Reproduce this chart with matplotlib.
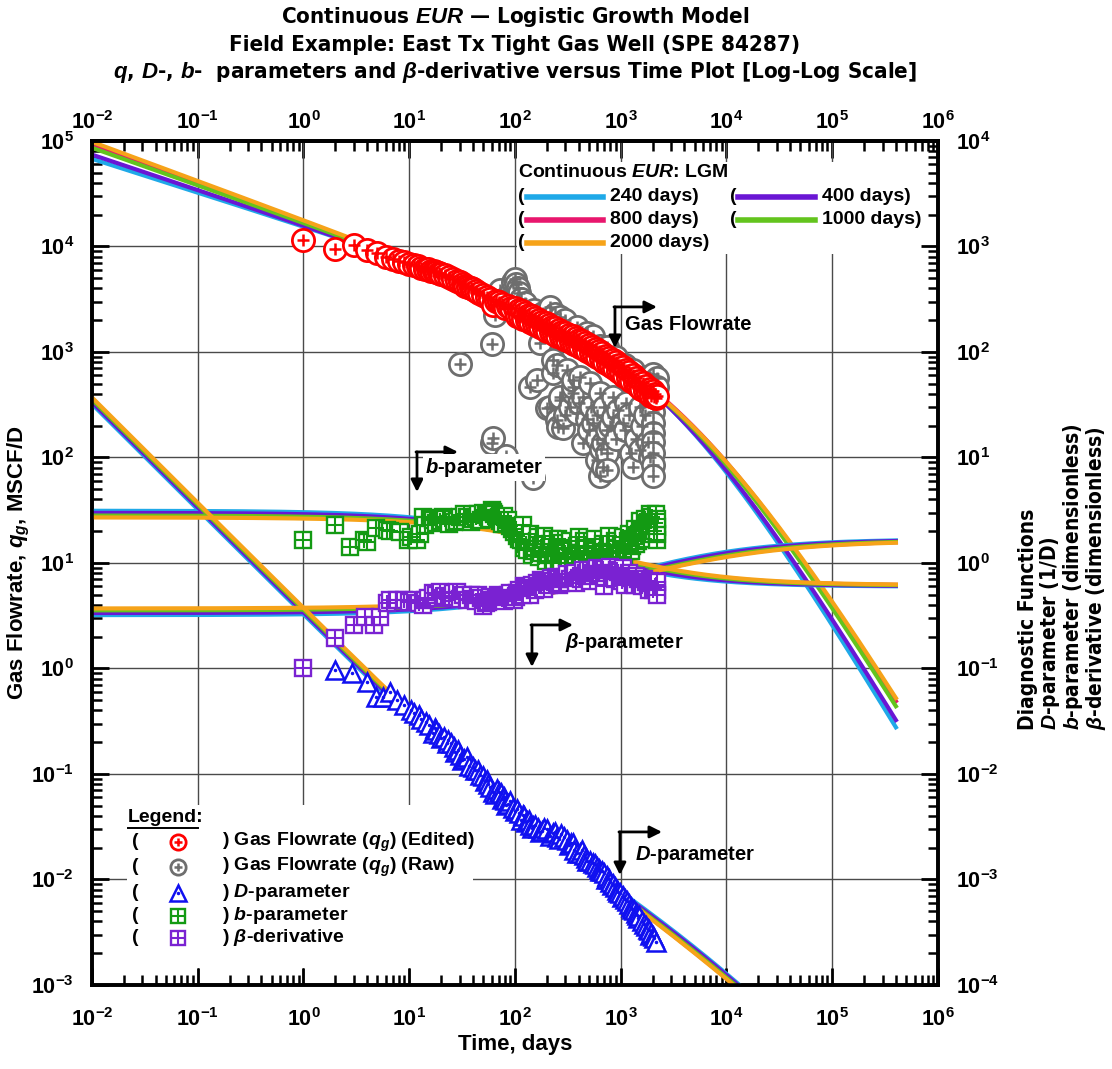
import numpy as np
import matplotlib
matplotlib.use("Agg")
import matplotlib.pyplot as plt
from matplotlib.ticker import LogLocator, FixedLocator, FuncFormatter, NullFormatter
from matplotlib.patches import Rectangle

plt.rcParams['font.family'] = ['Liberation Sans', 'DejaVu Sans']
plt.rcParams['font.weight'] = 'bold'
plt.rcParams['mathtext.fontset'] = 'custom'
plt.rcParams['mathtext.rm'] = 'Liberation Sans:bold'
plt.rcParams['mathtext.bf'] = 'Liberation Sans:bold'
plt.rcParams['mathtext.it'] = 'Liberation Sans:bold:italic'
COND = dict(family='DejaVu Sans', stretch='condensed', weight='bold')

# ---- production data (edited rate, MSCF/D) ----
q_edit_t = [1, 2, 3, 4, 5, 6, 7, 8, 9, 10, 11, 12, 13, 14, 15, 16, 17, 18, 19, 20,
            22, 24, 26, 28, 30, 32, 34, 36, 38, 40, 43, 46, 50, 54, 58, 62, 66, 70, 75, 80,
            86, 92, 100, 104, 108, 112, 116, 120, 125, 130, 135, 140, 145, 150, 155, 162,
            168, 174, 180, 188, 195, 203, 210, 218, 225, 233, 240, 250, 260, 270, 280, 290,
            300, 312, 325, 337, 350, 362, 375, 388, 400, 415, 430, 445, 460, 480, 500, 520,
            540, 560, 580, 600, 620, 645, 670, 695, 720, 750, 780, 810, 840, 870, 900, 935,
            970, 1005, 1040, 1080, 1120, 1160, 1200, 1250, 1300, 1350, 1400, 1450, 1500,
            1560, 1620, 1690, 1750, 1810, 1880, 1940, 2000, 2050, 2100, 2150, 2190]
q_edit = [11500, 9460, 10300, 9270, 8600, 8000, 7650, 7300, 7050, 6800, 6600, 6450, 6300,
          6150, 6050, 5900, 5800, 5700, 5600, 5500, 5300, 5100, 4900, 4750, 4550, 4400,
          4250, 4150, 4050, 3950, 3800, 3650, 3500, 3350, 3200, 2790, 3050, 2950, 2850,
          2610, 2700, 2600, 2600, 2200, 2500, 2150, 2420, 2060, 2340, 1990, 2250, 1920,
          2170, 1850, 2100, 1790, 2010, 1710, 1930, 1650, 1860, 1590, 1790, 1530, 1730,
          1480, 1670, 1430, 1610, 1380, 1560, 1330, 1510, 1290, 1460, 1250, 1410, 1200,
          1360, 1160, 1310, 1110, 1260, 1070, 1210, 1020, 1160, 980, 1110, 930, 1060, 890,
          1010, 850, 970, 810, 920, 770, 880, 735, 835, 700, 795, 665, 755, 630, 715, 595,
          675, 565, 640, 530, 600, 505, 565, 475, 535, 450, 505, 425, 475, 405, 450, 385,
          425, 370, 400, 365, 385]

# raw rate points that were removed during editing
q_raw_t = [30, 60, 65, 60, 62, 72, 83, 85, 95, 100, 103, 106, 108, 115, 125, 138, 149, 150,
           160, 172, 184, 200, 214, 214, 229, 229, 240, 248, 248, 258, 266, 266, 266, 286,
           300, 300, 310, 330, 355, 356, 356, 384, 384, 400, 410, 443, 443, 480, 480, 500,
           512, 520, 550, 550, 593, 600, 600, 634, 634, 634, 650, 685, 685, 700, 734, 734,
           734, 734, 800, 850, 850, 900, 900, 950, 1060, 1100, 1100, 1130, 1200, 1250, 1300,
           1320, 1400, 1520, 1520, 1600, 1700, 1760, 1800, 1880, 1900, 2030, 2030, 2030,
           2030, 2030, 2030, 2030, 2030, 2030, 2030, 2030, 2190, 2190]
q_raw = [770, 1180, 2240, 136, 153, 3890, 103, 3400, 4600, 4900, 4400, 4000, 3600, 3200,
         2900, 470, 64, 2500, 543, 1210, 2340, 295, 2690, 302, 630, 840, 2300, 227, 753,
         195, 2140, 351, 376, 189, 2000, 250, 680, 300, 408, 470, 540, 1740, 263, 330, 580,
         376, 136, 1500, 230, 180, 510, 300, 211, 1400, 95, 250, 150, 410, 1150, 66, 120,
         136, 82, 300, 1120, 110, 182, 76, 200, 244, 376, 900, 150, 280, 211, 750, 180, 325,
         250, 110, 680, 81, 150, 300, 118, 200, 250, 583, 140, 583, 100, 620, 520, 420, 340,
         270, 210, 170, 140, 110, 85, 66, 560, 470]

# ---- diagnostic functions computed from the data ----
d_t = [2, 2.9, 3.96, 4.9, 5.7, 6.6, 7.7, 9.0, 10.5, 11, 12.3, 13, 14.3, 15.5, 16.9, 17.5,
       18, 19, 20, 21.3, 22.6, 23.5, 24.9, 26.5, 27, 28.7, 30, 31.5, 33, 35, 37, 39.8, 42,
       45, 47, 50, 52, 54, 56, 58, 62, 65, 68, 70, 73, 75, 78, 80, 83, 86, 90, 95, 100, 105,
       108, 114, 118, 122, 126, 130, 135, 140, 145, 149, 155, 165, 172, 180, 190, 200, 215,
       230, 240, 250, 260, 270, 290, 310, 325, 340, 350, 360, 385, 410, 430, 450, 465, 480,
       515, 550, 575, 600, 620, 640, 670, 700, 720, 734, 770, 800, 825, 850, 880, 920, 950,
       985, 1020, 1050, 1100, 1150, 1200, 1250, 1290, 1330, 1380, 1420, 1460, 1500, 1580,
       1660, 1730, 1800, 1850, 1900, 1950, 2000, 2080, 2150]
d_param = [0.097, 0.09, 0.075, 0.054, 0.054, 0.06, 0.05, 0.045, 0.04, 0.038, 0.036, 0.033,
           0.031, 0.029, 0.0243, 0.027, 0.026, 0.024, 0.022, 0.0226, 0.0195, 0.021, 0.0195,
           0.018, 0.016, 0.0169, 0.015, 0.0136, 0.014, 0.0145, 0.012, 0.0117, 0.0108, 0.011,
           0.0098, 0.0095, 0.0085, 0.0088, 0.008, 0.0075, 0.0068, 0.0064, 0.0072, 0.0068,
           0.0066, 0.0058, 0.006, 0.0057, 0.0051, 0.0052, 0.0055, 0.0048, 0.0045, 0.0047,
           0.0043, 0.0037, 0.0041, 0.004, 0.0035, 0.0036, 0.0037, 0.0033, 0.0031, 0.0032,
           0.0033, 0.0031, 0.0028, 0.0029, 0.0031, 0.003, 0.0026, 0.00275, 0.0028, 0.0025,
           0.0024, 0.0027, 0.0025, 0.00237, 0.0021, 0.0022, 0.0022, 0.0019, 0.0018, 0.00177,
           0.0019, 0.0017, 0.0016, 0.0015, 0.0015, 0.00142, 0.0014, 0.0013, 0.00125, 0.0012,
           0.0012, 0.00115, 0.001, 0.00107, 0.001, 0.00095, 0.00088, 0.0009, 0.00085, 0.0008,
           0.00076, 0.00074, 0.00068, 0.0007, 0.00066, 0.00062, 0.00058, 0.00055, 0.00052,
           0.00051, 0.00048, 0.00046, 0.00043, 0.00045, 0.0004, 0.00038, 0.00036, 0.00034,
           0.00033, 0.0003, 0.00031, 0.00029, 0.00028, 0.000257]

b_t = [1, 2, 2.75, 3.7, 4.0, 4.9, 6.1, 6.6, 8.2, 9.8, 10.3, 11.8, 12.6, 13.5, 14, 15.8,
       16.9, 18, 19.5, 21, 22, 24, 26.3, 28, 30, 33, 35, 38, 40, 43, 45, 48, 50, 53, 55, 58,
       60, 62, 64, 67.5, 70, 72, 75, 78, 83, 86, 90, 94, 97, 102, 105, 110, 114, 117, 120,
       123, 126, 131, 135, 140, 145, 149, 155, 160, 165, 170, 175, 178, 185, 190, 195, 200,
       208, 215, 222, 230, 236, 242, 248, 255, 262, 270, 280, 290, 300, 310, 320, 330, 342,
       355, 368, 380, 390, 400, 415, 430, 445, 460, 480, 500, 515, 530, 550, 570, 585, 600,
       625, 650, 675, 700, 715, 734, 760, 780, 815, 850, 875, 900, 940, 985, 1010, 1050,
       1080, 1120, 1160, 1200, 1240, 1280, 1320, 1350, 1400, 1450, 1480, 1520, 1570, 1620,
       1660, 1700, 1750, 1800, 1850, 1900, 1950, 1990, 2050, 2100, 2140, 2190, 2190, 2190,
       2190]
b_param = [1.65, 2.29, 1.43, 1.65, 1.59, 2.14, 2.05, 2.0, 1.98, 1.65, 1.78, 1.65, 1.9, 2.75,
           2.3, 2.65, 2.57, 2.4, 2.5, 2.7, 2.62, 2.35, 2.45, 2.5, 2.7, 2.9, 2.75, 2.45, 2.6,
           2.7, 2.9, 2.55, 3.0, 2.85, 2.75, 2.6, 3.2, 3.05, 2.9, 2.65, 2.75, 2.5, 2.35, 2.8,
           2.4, 2.55, 2.25, 2.1, 1.95, 2.1, 1.8, 1.7, 1.65, 1.9, 2.3, 1.4, 1.5, 1.33, 1.6,
           1.9, 1.2, 1.3, 1.4, 1.6, 1.75, 1.15, 1.25, 1.43, 1.5, 1.8, 1.05, 1.2, 1.35, 1.5,
           1.7, 1.05, 1.2, 1.23, 1.4, 1.7, 1.1, 1.0, 1.55, 1.35, 1.25, 1.15, 1.0, 1.6, 1.4,
           0.98, 1.15, 1.3, 1.45, 1.75, 1.25, 1.1, 1.6, 1.4, 1.2, 1.0, 1.05, 1.25, 1.45, 1.7,
           1.3, 1.1, 1.0, 1.35, 1.5, 0.95, 1.15, 1.3, 1.45, 1.8, 1.25, 1.1, 1.6, 1.4, 1.25,
           1.15, 1.5, 1.75, 1.15, 1.3, 1.6, 1.9, 1.3, 1.45, 1.7, 2.1, 1.5, 1.6, 1.9, 2.5,
           2.1, 1.9, 1.7, 2.6, 2.4, 2.2, 1.9, 2.9, 2.5, 2.75, 2.0, 2.4, 2.9, 2.21, 1.65, 1.9,
           2.6]

beta_t = [1, 2, 3, 3.8, 4.6, 5.3, 6.2, 6.6, 7.7, 9.0, 10, 11.3, 12.5, 13.5, 14, 15, 16.9,
          18, 19.5, 21, 22, 24, 26, 28, 30, 32, 35, 38, 40, 43, 45, 48, 50, 53, 55, 58, 60,
          63, 66, 69, 72, 75, 78, 83, 86, 90, 94, 97, 103, 105, 110, 114, 118, 122, 126, 130,
          135, 140, 145, 149, 155, 160, 170, 178, 185, 190, 200, 210, 220, 230, 242, 250,
          260, 270, 280, 295, 310, 330, 355, 370, 380, 400, 420, 440, 455, 470, 490, 510,
          530, 550, 575, 600, 625, 650, 675, 700, 715, 734, 770, 800, 825, 850, 885, 920,
          950, 985, 1020, 1050, 1100, 1150, 1200, 1250, 1300, 1350, 1400, 1460, 1520, 1580,
          1650, 1720, 1800, 1850, 1900, 1950, 2000, 2050, 2100, 2140, 2190, 2190, 2190]
beta_deriv = [0.1, 0.193, 0.258, 0.31, 0.258, 0.31, 0.415, 0.446, 0.446, 0.446, 0.43,
              0.446, 0.42, 0.40, 0.45, 0.47, 0.516, 0.5, 0.53, 0.47, 0.49, 0.48, 0.52,
              0.535, 0.46, 0.50, 0.446, 0.5, 0.46, 0.44, 0.50, 0.47, 0.39, 0.42, 0.43, 0.48,
              0.446, 0.45, 0.47, 0.5, 0.48, 0.46, 0.44, 0.48, 0.5, 0.516, 0.47, 0.45, 0.48,
              0.52, 0.56, 0.52, 0.5, 0.60, 0.58, 0.555, 0.54, 0.50, 0.62, 0.58, 0.56, 0.65,
              0.6, 0.69, 0.66, 0.57, 0.64, 0.62, 0.72, 0.68, 0.74, 0.7, 0.62, 0.64, 0.7,
              0.74, 0.78, 0.7, 0.77, 0.8, 0.65, 0.72, 0.7, 0.85, 0.76, 0.8, 0.85, 0.68, 0.75,
              0.8, 0.86, 0.9, 0.78, 0.85, 0.88, 0.6, 0.74, 0.8, 0.85, 0.92, 0.8, 0.75, 0.7,
              0.86, 0.82, 0.74, 0.68, 0.9, 0.62, 0.75, 0.8, 0.72, 0.65, 0.62, 0.75, 0.7,
              0.64, 0.6, 0.7, 0.66, 0.6, 0.56, 0.68, 0.64, 0.555, 0.58, 0.6, 0.62, 0.555,
              0.66, 0.5]

# ---- logistic growth model fits, one per amount of history used ----
eur_days = [240, 400, 800, 1000, 2000]
eur_colors = ['#1fa9e8', '#6a16d4', '#e8176d', '#63c41d', '#f6a319']
K_mscf = [5.06e6, 5.17e6, 5.97e6, 5.68e6, 6.0e6]
a_values = [222, 217, 221, 218, 212]
n_values = [0.68, 0.665, 0.64, 0.645, 0.63]


def lgm(t, K, a, n):
    tn = t ** n
    q = K * n * a * t ** (n - 1) / (a + tn) ** 2
    beta = (1 - n) + 2 * n * tn / (a + tn)
    D = beta / t
    t_dbeta = 2 * n * n * a * tn / (a + tn) ** 2
    b = 1 / beta - t_dbeta / beta ** 2
    return q, D, b, beta


fig = plt.figure(figsize=(11.12, 10.69), dpi=100)
ax = fig.add_axes([0.0827, 0.0786, 0.7608, 0.7896])
ax.set_xscale('log')
ax.set_yscale('log')
ax.set_xlim(1e-2, 1e6)
ax.set_ylim(1e-3, 1e5)
ax2 = ax.twinx()
ax2.set_yscale('log')
ax2.set_ylim(1e-4, 1e4)

t_model = np.logspace(-2, np.log10(4e5), 500)
for K, a, n, c in zip(K_mscf, a_values, n_values, eur_colors):
    q, D, b, beta = lgm(t_model, K, a, n)
    ax.plot(t_model, q, color=c, lw=3, zorder=2)
    ax2.plot(t_model, D, color=c, lw=3, zorder=2)
    ax2.plot(t_model, b, color=c, lw=3, zorder=2)
    ax2.plot(t_model, beta, color=c, lw=3, zorder=2)


def circle_plus(axis, x, y, color, ms=16, z=3, **kw):
    axis.plot(x, y, 'o', ms=ms, mfc='white', mec=color, mew=2, ls='none', zorder=z, **kw)
    axis.plot(x, y, '+', ms=ms * 0.55, mec=color, mew=1.8, ls='none', zorder=z, **kw)


def square_plus(axis, x, y, color, ms=12, z=3, **kw):
    axis.plot(x, y, 's', ms=ms, mfc='white', mec=color, mew=1.7, ls='none', zorder=z, **kw)
    axis.plot(x, y, '+', ms=ms, mec=color, mew=1.5, ls='none', zorder=z, **kw)


def triangle_dot(axis, x, y, color, ms=13, z=3, **kw):
    axis.plot(x, y, '^', ms=ms, mfc='white', mec=color, mew=1.8, ls='none', zorder=z, **kw)
    axis.plot(x, y, '.', ms=3, color=color, ls='none', zorder=z, **kw)


RED, GRAY, BLUE, GREEN, PURPLE = '#ff0000', '#6e6e6e', '#1010f0', '#139a13', '#7a22d2'

circle_plus(ax, q_raw_t, q_raw, GRAY, z=3)
circle_plus(ax, q_edit_t, q_edit, RED, z=4)
triangle_dot(ax2, d_t, d_param, BLUE, z=3)
square_plus(ax2, b_t, b_param, GREEN, z=3)
square_plus(ax2, beta_t, beta_deriv, PURPLE, z=3.5)

# ---- axes styling ----
top = ax.secondary_xaxis('top')
fmt = FuncFormatter(lambda v, _: r'$\mathbf{10^{%d}}$' % int(round(np.log10(v))))
decades = {ax.xaxis: range(-2, 7), top.xaxis: range(-2, 7),
           ax.yaxis: range(-3, 6), ax2.yaxis: range(-4, 5)}
for axis, rng in decades.items():
    axis.set_major_locator(FixedLocator([10.0 ** k for k in rng]))
    axis.set_minor_locator(LogLocator(base=10, subs=np.arange(2, 10), numticks=20))
    axis.set_major_formatter(fmt)
    axis.set_minor_formatter(NullFormatter())

for a_ in (ax, ax2, top):
    a_.tick_params(which='major', direction='in', length=12, width=2, labelsize=15.5, pad=13)
    a_.tick_params(which='minor', direction='in', length=7, width=1.8)
    for s in a_.spines.values():
        s.set_linewidth(2.6)
ax.tick_params(axis='x', which='major', pad=17)
top.tick_params(which='major', pad=5)
ax.grid(True, which='major', color='#4a4a4a', lw=1.0)

ax.set_xlabel('Time, days', fontsize=16, fontweight='bold', labelpad=2)
ax.set_ylabel(r'Gas Flowrate, $q_g$, MSCF/D', fontsize=16, fontweight='bold')
ax.yaxis.set_label_coords(-0.071, 0.5)

fig.text(0.463, 0.984, r'Continuous $EUR$ — Logistic Growth Model', ha='center', va='center',
         fontsize=16, **COND)
fig.text(0.463, 0.958, 'Field Example: East Tx Tight Gas Well (SPE 84287)', ha='center',
         va='center', fontsize=16, **COND)
fig.text(0.463, 0.932, r'$q$, $D$-, $b$-  parameters and $\beta$-derivative versus Time Plot '
         '[Log-Log Scale]', ha='center', va='center', fontsize=16, **COND)

fig.text(0.956, 0.317, 'Diagnostic Functions\n$D$-parameter (1/D)\n$b$-parameter (dimensionless)\n'
         r'$\beta$-derivative (dimensionless)', rotation=90, ha='center', va='bottom',
         multialignment='left', fontsize=15, linespacing=0.95, **COND)

# ---- legend for the model cases (upper right) ----
T = ax2.transAxes
ax2.add_patch(Rectangle((0.5024, 0.866), 0.4956, 0.109, transform=T, facecolor='white',
                        edgecolor='none', zorder=1))
ax2.text(0.5035, 0.962, r'Continuous $EUR$: LGM', transform=T, fontsize=14, va='center')
rows = [0.9336, 0.9064, 0.8791]
cols = [(0.5035, 0.5142, 0.604, 0.6123), (0.7541, 0.7636, 0.8546, 0.863)]
slots = [(0, 0), (0, 1), (1, 0), (1, 1), (2, 0)]
for i, (r, cidx) in enumerate(slots):
    px, l0, l1, tx = cols[cidx]
    fy = rows[r]
    ax2.text(px, fy, '(', transform=T, fontsize=14, va='center')
    ax2.plot([l0, l1], [fy, fy], transform=T, color=eur_colors[i], lw=4, clip_on=False,
             zorder=3)
    ax2.text(tx, fy, '%d days)' % eur_days[i], transform=T, fontsize=14, va='center')

# ---- legend for the data (lower left) ----
ax2.add_patch(Rectangle((0.0414, 0.0201), 0.409, 0.1932, transform=T, facecolor='white',
                        edgecolor='none', zorder=1))
ax2.text(0.0426, 0.199, 'Legend:', transform=T, fontsize=14, va='center')
ax2.plot([0.0426, 0.1255], [0.1855, 0.1855], transform=T, color='k', lw=1.4, zorder=3)
leg_rows = [0.1694, 0.1398, 0.109, 0.0818, 0.0557]
leg_labels = [r'Gas Flowrate ($q_g$) (Edited)', r'Gas Flowrate ($q_g$) (Raw)',
              r'$D$-parameter', r'$b$-parameter', r'$\beta$-derivative']
for fy, lab in zip(leg_rows, leg_labels):
    ax2.text(0.0473, fy, '(', transform=T, fontsize=14, va='center')
    ax2.text(0.1537, fy, ') ' + lab, transform=T, fontsize=14, va='center')
circle_plus(ax2, [0.1017], [leg_rows[0]], RED, ms=11, z=4, transform=T, clip_on=False)
circle_plus(ax2, [0.1017], [leg_rows[1]], GRAY, ms=11, z=4, transform=T, clip_on=False)
triangle_dot(ax2, [0.1017], [leg_rows[2]], BLUE, ms=11, z=4, transform=T, clip_on=False)
square_plus(ax2, [0.1017], [leg_rows[3]], GREEN, ms=10, z=4, transform=T, clip_on=False)
square_plus(ax2, [0.1017], [leg_rows[4]], PURPLE, ms=10, z=4, transform=T, clip_on=False)

# ---- bracket arrows pointing at each group ----
arrow_kw = dict(arrowstyle='-|>', color='k', lw=2, shrinkA=0, shrinkB=0, mutation_scale=18)
callouts = [
    ('Gas Flowrate', (0.6182, 0.8033), 0.7547, 0.6678, (0.630, 0.782), False),
    (r'$b$-parameter', (0.3842, 0.6315), 0.5841, 0.4326, (0.3936, 0.6126), True),
    (r'$\beta$-parameter', (0.5201, 0.4265), 0.3768, 0.5686, (0.5591, 0.4052), False),
    (r'$D$-parameter', (0.6241, 0.1813), 0.1303, 0.6738, (0.6418, 0.154), False),
]
for lab, (cx, cy), ydown, xright, (tx, ty), boxed in callouts:
    ax2.annotate('', xy=(cx, ydown), xytext=(cx, cy), xycoords=T, textcoords=T,
                 arrowprops=arrow_kw, zorder=6)
    ax2.annotate('', xy=(xright, cy), xytext=(cx - 0.0012, cy), xycoords=T, textcoords=T,
                 arrowprops=arrow_kw, zorder=6)
    bbox = dict(facecolor='white', edgecolor='none', pad=1.5) if boxed else None
    ax2.text(tx, ty, lab, transform=T, fontsize=14.5, va='center', bbox=bbox, zorder=6)

fig.savefig('out.png', dpi=100)
